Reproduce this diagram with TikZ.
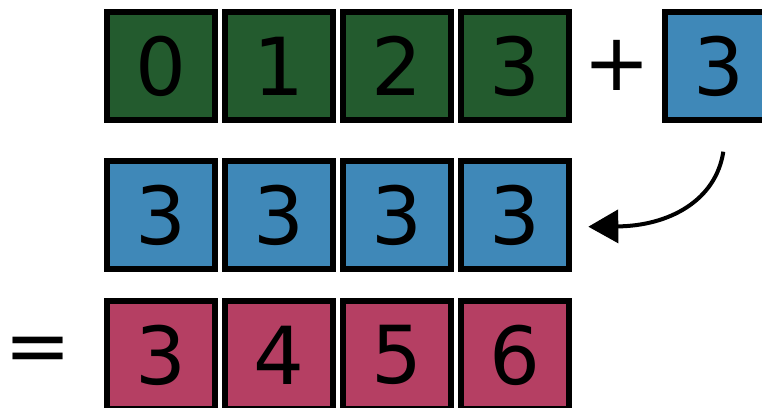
\documentclass[tikz,border=0pt]{standalone}
\usepackage{fontspec}
\setmainfont{DejaVu Sans}
\usetikzlibrary{arrows.meta}
\definecolor{cgreen}{HTML}{235B2E}
\definecolor{cblue}{HTML}{3F88B8}
\definecolor{cpink}{HTML}{B53F63}
\tikzset{
  cell/.style={draw=black, line width=6pt, minimum width=107.4pt, minimum height=107.4pt,
    inner sep=0pt, font=\fontsize{80pt}{80pt}\selectfont},
  gcell/.style={cell, fill=cgreen},
  bcell/.style={cell, fill=cblue},
  pcell/.style={cell, fill=cpink},
  sign/.style={inner sep=0pt, font=\fontsize{80pt}{80pt}\selectfont},
  curvearrow/.style={line width=4pt, -{Triangle[length=30pt,width=33pt]}}
}
\begin{document}
\begin{tikzpicture}[x=1pt,y=-1pt]
\useasboundingbox (0,0) rectangle (762,407);
\clip (0,0) rectangle (762,407);
% row 1
\node[gcell] (a0) at (161,66) {0};
\node[gcell] (a1) at (279,66) {1};
\node[gcell] (a2) at (397,66) {2};
\node[gcell] (a3) at (515,66) {3};
\node[sign] (plus) at (617,65) {+};
\node[bcell] (s) at (718.7,66) {3};
% row 2
\node[bcell] (b0) at (161,215) {3};
\node[bcell] (b1) at (279,215) {3};
\node[bcell] (b2) at (397,215) {3};
\node[bcell] (b3) at (515,215) {3};
% row 3
\node[sign] (eq) at (37.7,355.7) {=};
\node[pcell] (c0) at (161,355) {3};
\node[pcell] (c1) at (279,355) {4};
\node[pcell] (c2) at (397,355) {5};
\node[pcell] (c3) at (515,355) {6};
% arrow
\coordinate (astart) at (723.3,151.7);
\coordinate (aend) at (588.3,226.7);
\draw[curvearrow] (astart) .. controls (715.9,200.3) and (669.5,225.9) .. (aend);
\end{tikzpicture}
\end{document}
